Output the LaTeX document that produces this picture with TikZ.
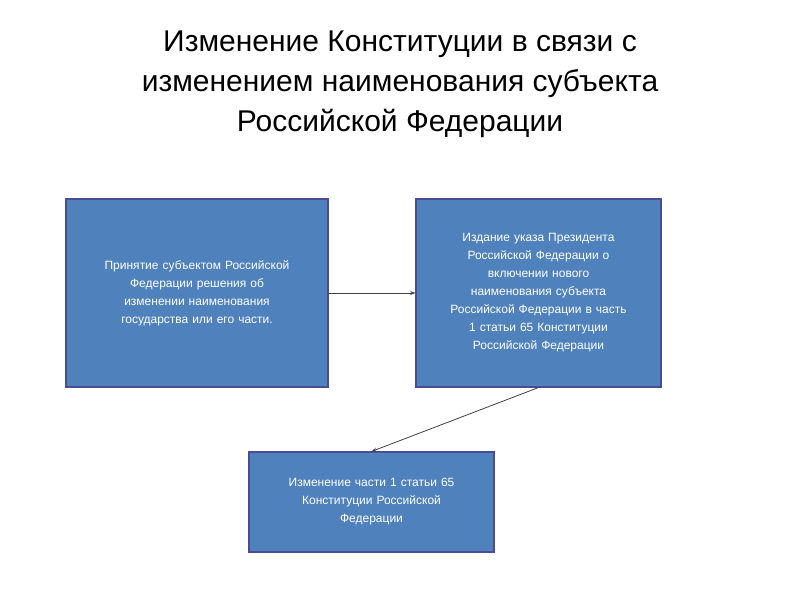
\documentclass[tikz,border=0pt]{standalone}
\usepackage{fontspec}
\setmainfont{Liberation Sans}
\usetikzlibrary{arrows.meta}
\begin{document}
\begin{tikzpicture}[x=0.75pt,y=-0.75pt,
  box/.style={draw=blue!40!black!70!white,fill=boxfill,line width=0.8pt,text=white,font=\fontsize{9}{13.5}\selectfont,align=center,inner sep=0pt},
  arr/.style={draw=black!75,line width=0.6pt,-{Stealth[length=4pt,width=3pt]}}]
\definecolor{boxfill}{HTML}{4F81BD}
\useasboundingbox (0,0) rectangle (800,600);
\node[font=\fontsize{22.5}{30}\selectfont,align=center] (title) at (400,84) {Изменение Конституции в связи с\\изменением наименования субъекта\\Российской Федерации};
\node[box,minimum width=262*0.75pt,minimum height=188*0.75pt,text width=240*0.75pt] (b1) at (197,293) {Принятие субъектом Российской\\Федерации решения об\\изменении наименования\\государства или его части.};
\node[box,minimum width=245*0.75pt,minimum height=188*0.75pt,text width=230*0.75pt] (b2) at (538.5,293) {Издание указа Президента\\Российской Федерации о\\включении нового\\наименования субъекта\\Российской Федерации в часть\\1 статьи 65 Конституции\\Российской Федерации};
\node[box,minimum width=245*0.75pt,minimum height=100*0.75pt,text width=230*0.75pt] (b3) at (371.5,502) {Изменение части 1 статьи 65\\Конституции Российской\\Федерации};
\draw[arr] (b1) -- (b2);
\draw[arr] (b2.south) -- (b3.north);
\end{tikzpicture}
\end{document}
